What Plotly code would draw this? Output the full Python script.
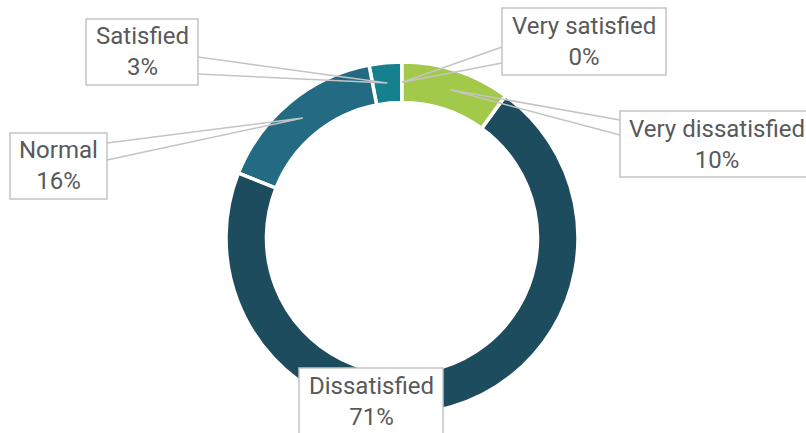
import math
import plotly.graph_objects as go

# Survey answers, in drawing order (counterclockwise from 12 o'clock)
categories = ["Very satisfied", "Satisfied", "Normal", "Dissatisfied", "Very dissatisfied"]
values = [0, 3, 16, 71, 10]
colors = ["#8fc045", "#15808e", "#236a83", "#1e4c5f", "#a3c94a"]

# Callout boxes: left, top, right, bottom in pixels
boxes = {
    "Very satisfied": (502, 8, 666, 75),
    "Satisfied": (86, 19, 198, 85),
    "Normal": (10, 133, 107, 199),
    "Dissatisfied": (299, 368, 443, 434),
    "Very dissatisfied": (620, 111, 814, 177),
}
# Where each callout pointer leaves its box: x, y_top, y_bottom
pointer_base = {
    "Very satisfied": (502, 47, 63),
    "Satisfied": (198, 57, 74),
    "Normal": (107, 143, 160),
    "Very dissatisfied": (620, 120, 135),
}

W, H = 806, 433
CX, CY, R = 402, 238, 176
HOLE = 0.77

def px(x):
    return x / W

def py(y):
    return 1 - y / H

total = sum(values)
labels_text = [f"{c}<br>{round(v / total * 100):.0f}%" for c, v in zip(categories, values)]

fig = go.Figure(go.Pie(
    labels=categories,
    values=values,
    hole=HOLE,
    sort=False,
    direction="counterclockwise",
    rotation=0,
    marker=dict(colors=colors, line=dict(color="white", width=3.5)),
    textinfo="none",
    hoverinfo="label+percent",
    showlegend=False,
    domain=dict(x=[px(CX - R), px(CX + R)], y=[py(CY + R), py(CY - R)]),
))

shapes = []
annotations = []
r_mid = R * (1 + HOLE) / 2
cum = 0.0
for cat, v, txt in zip(categories, values, labels_text):
    frac_mid = (cum + v / 2) / total
    cum += v
    theta = 2 * math.pi * frac_mid
    tx = CX - r_mid * math.sin(theta)
    ty = CY - r_mid * math.cos(theta)
    if cat in pointer_base:
        bx, by1, by2 = pointer_base[cat]
        path = (f"M {px(bx)} {py(by1)} L {px(tx)} {py(ty)} L {px(bx)} {py(by2)}")
        shapes.append(dict(type="path", xref="paper", yref="paper", path=path,
                           line=dict(color="#c4c4c4", width=1.5), layer="above"))
for cat, txt in zip(categories, labels_text):
    x0, y0, x1, y1 = boxes[cat]
    shapes.append(dict(type="rect", xref="paper", yref="paper",
                       x0=px(x0), x1=px(x1), y0=py(y1), y1=py(y0),
                       line=dict(color="#c4c4c4", width=1.5),
                       fillcolor="white", layer="above"))
    annotations.append(dict(text=txt, xref="paper", yref="paper",
                            x=px((x0 + x1) / 2 if cat != "Very dissatisfied" else 717),
                            y=py((y0 + y1) / 2),
                            xanchor="center", yanchor="middle", showarrow=False,
                            font=dict(family="Roboto", size=24, color="#595959")))

fig.update_layout(
    width=W, height=H,
    margin=dict(l=0, r=0, t=0, b=0),
    paper_bgcolor="white", plot_bgcolor="white",
    shapes=shapes, annotations=annotations,
)

fig.write_html("out.html")
